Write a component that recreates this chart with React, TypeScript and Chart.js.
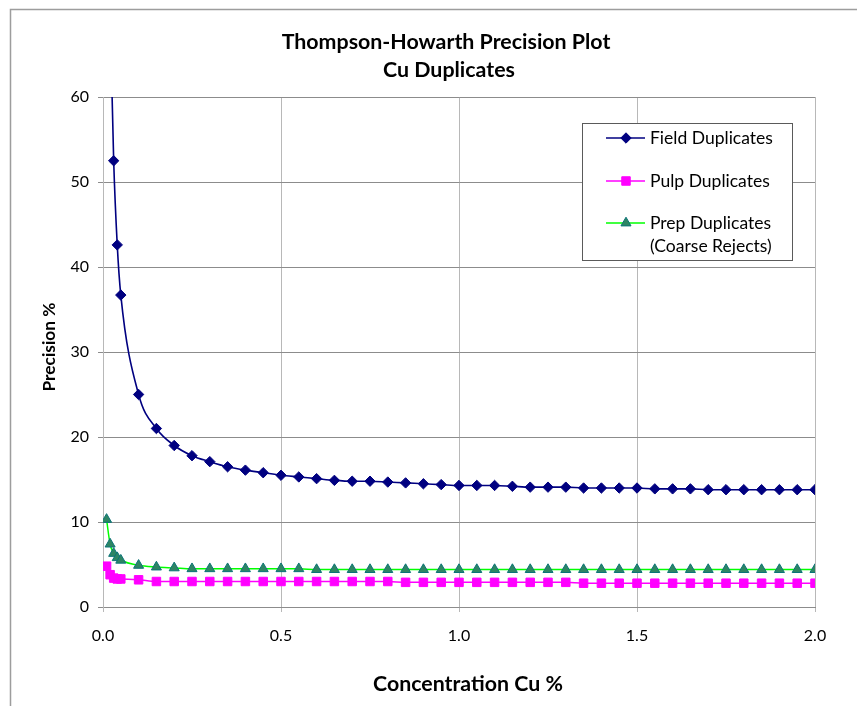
import React, { useEffect, useRef } from "react";
import { Chart, registerables } from "chart.js";

Chart.register(...registerables);

// ---------- data ----------
const FIELD_X = [
  0.02, 0.03, 0.04, 0.05, 0.1, 0.15, 0.2, 0.25, 0.3, 0.35, 0.4, 0.45, 0.5, 0.55, 0.6, 0.65, 0.7, 0.75,
  0.8, 0.85, 0.9, 0.95, 1.0, 1.05, 1.1, 1.15, 1.2, 1.25, 1.3, 1.35, 1.4, 1.45, 1.5, 1.55, 1.6, 1.65,
  1.7, 1.75, 1.8, 1.85, 1.9, 1.95, 2.0,
];
const FIELD_Y = [
  70, 52.5, 42.6, 36.7, 25.0, 21.0, 19.0, 17.8, 17.1, 16.5, 16.1, 15.8, 15.5, 15.3, 15.1, 14.9, 14.8, 14.8,
  14.7, 14.6, 14.5, 14.4, 14.3, 14.3, 14.3, 14.2, 14.1, 14.1, 14.1, 14.0, 14.0, 14.0, 14.0, 13.9, 13.9, 13.9,
  13.8, 13.8, 13.8, 13.8, 13.8, 13.8, 13.8,
];
const SAMPLE_X = [
  0.01, 0.02, 0.03, 0.04, 0.05, 0.1, 0.15, 0.2, 0.25, 0.3, 0.35, 0.4, 0.45, 0.5, 0.55, 0.6, 0.65, 0.7, 0.75,
  0.8, 0.85, 0.9, 0.95, 1.0, 1.05, 1.1, 1.15, 1.2, 1.25, 1.3, 1.35, 1.4, 1.45, 1.5, 1.55, 1.6, 1.65,
  1.7, 1.75, 1.8, 1.85, 1.9, 1.95, 2.0,
];
const PULP_Y = [
  4.8, 3.8, 3.4, 3.3, 3.3, 3.2, 3.0, 3.0, 3.0, 3.0, 3.0, 3.0, 3.0, 3.0, 3.0, 3.0, 3.0, 3.0, 3.0,
  3.0, 2.9, 2.9, 2.9, 2.9, 2.9, 2.9, 2.9, 2.9, 2.9, 2.9, 2.8, 2.8, 2.8, 2.8, 2.8, 2.8, 2.8,
  2.8, 2.8, 2.8, 2.8, 2.8, 2.8, 2.8,
];
const PREP_Y = [
  10.3, 7.4, 6.3, 5.8, 5.5, 4.9, 4.7, 4.6, 4.5, 4.5, 4.5, 4.5, 4.5, 4.5, 4.5, 4.4, 4.4, 4.4, 4.4,
  4.4, 4.4, 4.4, 4.4, 4.4, 4.4, 4.4, 4.4, 4.4, 4.4, 4.4, 4.4, 4.4, 4.4, 4.4, 4.4, 4.4, 4.4,
  4.4, 4.4, 4.4, 4.4, 4.4, 4.4, 4.4,
];
const X_TICK_LABELS = ["0.0", "0.5", "1.0", "1.5", "2.0"];
const TITLE_LINES = ["Thompson-Howarth Precision Plot", "Cu Duplicates"];
const X_TITLE = "Concentration Cu %";
const Y_TITLE = "Precision %";
const SERIES_NAMES = ["Field Duplicates", "Pulp Duplicates", "Prep Duplicates"];
const LEGEND_LINES = [["Field Duplicates"], ["Pulp Duplicates"], ["Prep Duplicates", "(Coarse Rejects)"]];

const FONT = "Lato, 'Open Sans', sans-serif";

function fitSize(ctx: CanvasRenderingContext2D, text: string, weight: string, target: number) {
  ctx.font = `${weight} 20px ${FONT}`;
  const w = ctx.measureText(text).width;
  return (20 * target) / w;
}

function markerPath(ctx: CanvasRenderingContext2D, style: string, x: number, y: number, r: number) {
  ctx.beginPath();
  if (style === "rectRot") {
    ctx.moveTo(x, y - r);
    ctx.lineTo(x + r, y);
    ctx.lineTo(x, y + r);
    ctx.lineTo(x - r, y);
  } else if (style === "rect") {
    const s = r * Math.SQRT1_2;
    ctx.rect(x - s, y - s, 2 * s, 2 * s);
  } else {
    const h = r * 1.5;
    const side = h / Math.sin(Math.PI / 3);
    ctx.moveTo(x, y - r);
    ctx.lineTo(x + side / 2, y - r + h);
    ctx.lineTo(x - side / 2, y - r + h);
  }
  ctx.closePath();
}

const decorPlugin = {
  id: "decor",
  afterDraw(chart: any) {
    const ctx: CanvasRenderingContext2D = chart.ctx;
    ctx.save();
    // outer frame
    ctx.strokeStyle = "#9d9d9d";
    ctx.lineWidth = 1.5;
    ctx.beginPath();
    ctx.moveTo(10.5, 706);
    ctx.lineTo(10.5, 9.5);
    ctx.lineTo(857, 9.5);
    ctx.stroke();

    // title
    ctx.fillStyle = "#000";
    ctx.textAlign = "center";
    ctx.textBaseline = "middle";
    const ts = fitSize(ctx, TITLE_LINES[0], "bold", 329);
    ctx.font = `bold ${ts}px ${FONT}`;
    ctx.fillText(TITLE_LINES[0], 446, 42);
    ctx.fillText(TITLE_LINES[1], 449, 70);

    // x title
    const xs = fitSize(ctx, X_TITLE, "bold", 190);
    ctx.font = `bold ${xs}px ${FONT}`;
    ctx.fillText(X_TITLE, 468, 684);

    // y title
    const ys = fitSize(ctx, Y_TITLE, "bold", 89);
    ctx.save();
    ctx.translate(49, 347);
    ctx.rotate(-Math.PI / 2);
    ctx.font = `bold ${ys}px ${FONT}`;
    ctx.fillText(Y_TITLE, 0, 0);
    ctx.restore();

    // legend
    const bx = 582.5, by = 123.5, bw = 210, bh = 137;
    ctx.fillStyle = "#fff";
    ctx.fillRect(bx, by, bw, bh);
    ctx.strokeStyle = "#5a5a5a";
    ctx.lineWidth = 1;
    ctx.strokeRect(bx, by, bw, bh);
    const rowsY = [138, 181, 223];
    const ls = fitSize(ctx, LEGEND_LINES[0][0], "normal", 123);
    chart.data.datasets.forEach((ds: any, i: number) => {
      const yy = rowsY[i];
      ctx.strokeStyle = ds.borderColor;
      ctx.lineWidth = ds.borderWidth;
      ctx.beginPath();
      ctx.moveTo(606, yy);
      ctx.lineTo(645, yy);
      ctx.stroke();
      markerPath(ctx, ds.pointStyle, 626, yy, ds.pointRadius);
      ctx.fillStyle = ds.pointBackgroundColor;
      ctx.fill();
      ctx.strokeStyle = ds.pointBorderColor;
      ctx.lineWidth = ds.pointBorderWidth;
      ctx.stroke();
      ctx.fillStyle = "#000";
      ctx.textAlign = "left";
      ctx.textBaseline = "middle";
      ctx.font = `normal ${ls}px ${FONT}`;
      LEGEND_LINES[i].forEach((t, k) => ctx.fillText(t, 650, yy + k * 23));
    });
    ctx.restore();
  },
};

export default function App() {
  const ref = useRef<HTMLCanvasElement | null>(null);
  useEffect(() => {
    if (!ref.current) return;
    const tickFont = { family: FONT, size: 16 };
    const chart = new Chart(ref.current, {
      type: "line",
      data: {
        datasets: [
          {
            label: SERIES_NAMES[0],
            data: FIELD_X.map((x, i) => ({ x, y: FIELD_Y[i] })),
            borderColor: "#000080",
            backgroundColor: "#000080",
            pointBackgroundColor: "#000080",
            pointBorderColor: "#000080",
            pointStyle: "rectRot",
            pointRadius: 5.2,
            pointBorderWidth: 1,
            borderWidth: 1.6,
            cubicInterpolationMode: "monotone",
          },
          {
            label: SERIES_NAMES[1],
            data: SAMPLE_X.map((x, i) => ({ x, y: PULP_Y[i] })),
            borderColor: "#ff00ff",
            backgroundColor: "#ff00ff",
            pointBackgroundColor: "#ff00ff",
            pointBorderColor: "#ff00ff",
            pointStyle: "rect",
            pointRadius: 6,
            pointBorderWidth: 1,
            borderWidth: 1.5,
            cubicInterpolationMode: "monotone",
          },
          {
            label: SERIES_NAMES[2],
            data: SAMPLE_X.map((x, i) => ({ x, y: PREP_Y[i] })),
            borderColor: "#00ff00",
            backgroundColor: "#2e8563",
            pointBackgroundColor: "#2e8563",
            pointBorderColor: "#0b7378",
            pointStyle: "triangle",
            pointRadius: 5.8,
            pointBorderWidth: 1,
            borderWidth: 1.5,
            cubicInterpolationMode: "monotone",
          },
        ] as any,
      },
      options: {
        responsive: false,
        animation: false,
        events: [],
        layout: { padding: { left: 0, top: 97, right: 42, bottom: 0 } },
        plugins: {
          legend: { display: false },
          title: { display: false },
          tooltip: { enabled: false },
        },
        scales: {
          x: {
            type: "linear",
            min: 0,
            max: 2,
            ticks: {
              stepSize: 0.5,
              font: tickFont,
              color: "#000",
              padding: 14,
              maxRotation: 0,
              callback: (_v: any, i: number) => X_TICK_LABELS[i],
            },
            grid: { color: "#b8b8b8", tickLength: 5, lineWidth: 1 },
            border: { color: "#8c8c8c", width: 1 },
            afterFit: (s: any) => {
              s.height = 99;
            },
          },
          y: {
            min: 0,
            max: 60,
            ticks: { stepSize: 10, font: tickFont, color: "#000", padding: 9 },
            grid: { color: "#8c8c8c", tickLength: 5, lineWidth: 1 },
            border: { color: "#b8b8b8", width: 1 },
            afterFit: (s: any) => {
              s.width = 103;
            },
          },
        } as any,
      },
      plugins: [decorPlugin],
    });
    return () => chart.destroy();
  }, []);
  return (
    <div style={{ position: "absolute", left: 0, top: 0, width: 857, height: 706, background: "#fff" }}>
      <canvas ref={ref} width={857} height={706} style={{ display: "block" }} />
    </div>
  );
}
